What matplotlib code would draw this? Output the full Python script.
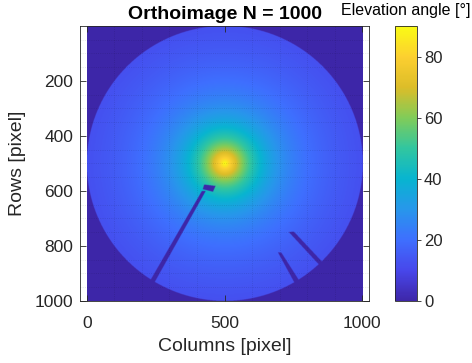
import numpy as np
import matplotlib
matplotlib.use("Agg")
import matplotlib.pyplot as plt
from matplotlib.colors import LinearSegmentedColormap
from matplotlib.path import Path

plt.rcParams['font.family'] = ['Liberation Sans', 'DejaVu Sans']

# orthoimage setup (pixels)
N = 1000
radio = 500            # radio del horizonte en pixeles
altura_camara = 110    # altura equivalente en pixeles (da ~12 grados en el borde)

# obstaculos que tapan el cielo (col, fila)
poste = [(417, 600), (431, 600), (230, 960), (210, 960)]
cabeza = [(425, 577), (466, 582), (457, 603), (420, 594)]
barra1 = [(732, 750), (750, 748), (918, 928), (900, 932)]
barra2 = [(692, 823), (705, 825), (791, 960), (769, 965)]
obstaculos = [poste, cabeza, barra1, barra2]

xticks = [0, 500, 1000]
yticks = [200, 400, 600, 800, 1000]
cticks = [0, 20, 40, 60, 80]

# parula aproximado
parula_pts = [(0.2422, 0.1504, 0.6603), (0.2803, 0.2782, 0.9221),
              (0.2440, 0.4358, 0.9988), (0.1540, 0.5902, 0.9218),
              (0.0297, 0.7082, 0.8163), (0.1938, 0.7758, 0.6251),
              (0.5044, 0.7993, 0.3480), (0.8634, 0.7406, 0.1596),
              (0.9892, 0.8136, 0.1885), (0.9769, 0.9839, 0.0805)]
parula = LinearSegmentedColormap.from_list("parula", parula_pts)

filas, cols = np.mgrid[1:N + 1, 1:N + 1]
r = np.hypot(cols - N / 2, filas - N / 2)
elev = np.degrees(np.arctan2(altura_camara, r))
elev[r > radio] = 0
puntos = np.column_stack([cols.ravel(), filas.ravel()])
for poly in obstaculos:
    dentro = Path(poly).contains_points(puntos).reshape(N, N)
    elev[dentro] = 0

fig = plt.figure(figsize=(4.72, 3.63), dpi=100)
ax = fig.add_axes([80 / 472, 62 / 363, 289 / 472, 275 / 363])
im = ax.imshow(elev, cmap=parula, vmin=0, vmax=90, extent=(0.5, N + 0.5, N + 0.5, 0.5),
               aspect='auto', interpolation='bilinear')
ax.set_xlim(-25, 1025)
ax.set_ylim(N + 0.5, 0.5)
ax.set_xticks(xticks)
ax.set_yticks(yticks)
ax.set_xticks(np.arange(0, 1001, 100), minor=True)
ax.set_yticks(np.arange(50, 1001, 50), minor=True)
ax.grid(which='minor', linestyle=':', color='k', alpha=0.13, linewidth=0.6)
ax.tick_params(which='major', direction='in', length=4, width=0.6, top=True, right=True,
               labelsize=12.5, colors='#262626', pad=5)
ax.tick_params(axis='x', which='major', pad=11)
ax.tick_params(which='minor', length=0)
for s in ax.spines.values():
    s.set_color('#262626')
    s.set_linewidth(0.6)
ax.set_xlabel("Columns [pixel]", fontsize=14, color='#262626', labelpad=5)
ax.set_ylabel("Rows [pixel]", fontsize=14, color='#262626', labelpad=6)
ax.set_title("Orthoimage N = 1000", fontsize=14, fontweight='bold', pad=5)

cax = fig.add_axes([395 / 472, 62 / 363, 22 / 472, 275 / 363])
cb = fig.colorbar(im, cax=cax, ticks=cticks)
cb.outline.set_linewidth(0.6)
cb.outline.set_edgecolor('#262626')
cax.tick_params(direction='out', length=3, width=0.6, labelsize=12, colors='#262626', pad=2)
fig.text(406 / 472, 1 - 11 / 363, "Elevation angle [°]", fontsize=11.5, ha='center', va='center')

fig.savefig("out.png", dpi=100)
